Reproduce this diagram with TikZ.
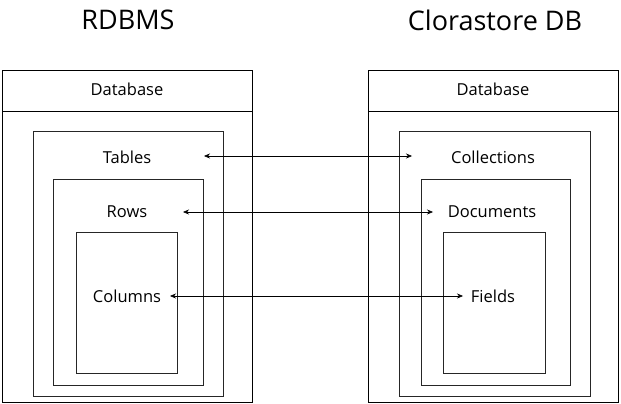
\documentclass[tikz,border=0pt]{standalone}
\usepackage{fontspec}
\setmainfont{Open Sans}
\usetikzlibrary{arrows.meta}
\begin{document}
\begin{tikzpicture}[x=1pt,y=-1pt,line width=0.8pt,
    lbl/.style={font=\fontsize{16.5}{18}\selectfont,inner sep=0pt},
    ttl/.style={font=\fontsize{27}{30}\selectfont,inner sep=0pt},
    inbox/.style={draw=black!85},
    link/.style={{Stealth[length=6pt,width=5pt]}-{Stealth[length=6pt,width=5pt]},line width=0.6pt}]
      \useasboundingbox (0,0) rectangle (621,404);
      % RDBMS side
      \node[ttl] (rdbms) at (128,20) {RDBMS};
      \draw (2,70) rectangle (252,402);
      \draw (2,111) -- (252,111);
      \node[lbl] (ldb) at (127,89) {Database};
      \draw[inbox] (33,131) rectangle (223,396);
      \draw[inbox] (53,179) rectangle (203,385);
      \draw[inbox] (76,232) rectangle (177,373);
      \node[lbl] (tab) at (127,157) {Tables};
      \node[lbl] (row) at (127,212) {Rows};
      \node[lbl] (colm) at (127,296) {Columns};
      % Clorastore side
      \node[ttl] (clora) at (495,20) {Clorastore DB};
      \draw (368,70) rectangle (618,402);
      \draw (368,111) -- (618,111);
      \node[lbl] (rdb) at (493,89) {Database};
      \draw[inbox] (399,131) rectangle (590,396);
      \draw[inbox] (421,179) rectangle (570,385);
      \draw[inbox] (443,232) rectangle (545,373);
      \node[lbl] (coll) at (493,157) {Collections};
      \node[lbl] (doc) at (492,212) {Documents};
      \node[lbl] (fld) at (493,296) {Fields};
      % mappings
      \draw[link] ([xshift=77pt,yshift=1pt]tab.center) -- ([xshift=-81pt,yshift=1pt]coll.center);
      \draw[link] ([xshift=56pt]row.center) -- ([xshift=-59pt]doc.center);
      \draw[link] ([xshift=43pt]colm.center) -- ([xshift=-30pt]fld.center);
    \end{tikzpicture}
\end{document}
